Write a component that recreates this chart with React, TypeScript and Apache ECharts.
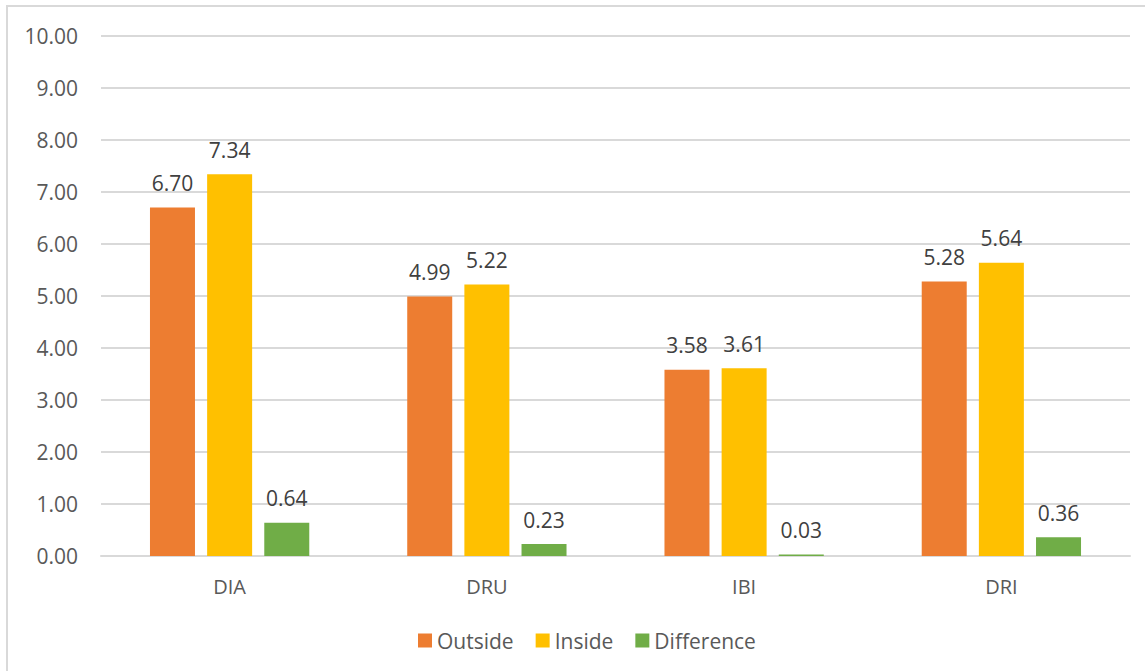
import React, { useEffect, useRef } from "react";
import * as echarts from "echarts";

const categories = ["DIA", "DRU", "IBI", "DRI"];
const outside = [6.7, 4.99, 3.58, 5.28];
const inside = [7.34, 5.22, 3.61, 5.64];
const difference = [0.64, 0.23, 0.03, 0.36];
const seriesNames = ["Outside", "Inside", "Difference"];
const colors = ["#ED7D31", "#FFC000", "#70AD47"];

const FONT = "'Open Sans', sans-serif";

export default function App() {
  const ref = useRef<HTMLDivElement>(null);
  useEffect(() => {
    if (!ref.current) return;
    const chart = echarts.init(ref.current, undefined, { renderer: "svg" });
    const label = {
      show: true,
      position: "top",
      distance: 14,
      color: "#404040",
      fontSize: 21,
      fontFamily: FONT,
      formatter: (p: any) => Number(p.value).toFixed(2),
    };
    const datasets = [outside, inside, difference];
    chart.setOption({
      animation: false,
      backgroundColor: "#ffffff",
      textStyle: { fontFamily: FONT },
      graphic: [
        {
          type: "rect",
          shape: { x: 7, y: 6, width: 1160, height: 700 },
          style: { fill: "none", stroke: "#d9d9d9", lineWidth: 2 },
          silent: true,
        },
      ],
      grid: { left: 101, right: 15, top: 36, bottom: 115, containLabel: false },
      legend: {
        data: seriesNames,
        top: 625,
        left: 413,
        itemWidth: 14,
        itemHeight: 14,
        itemGap: 22,
        icon: "rect",
        textStyle: { color: "#595959", fontSize: 21, fontFamily: FONT, padding: [0, 0, 0, 0] },
      },
      xAxis: {
        type: "category",
        data: categories,
        axisTick: { show: false },
        axisLine: { lineStyle: { color: "#d9d9d9", width: 2 } },
        axisLabel: { color: "#595959", fontSize: 20, fontFamily: FONT, margin: 20 },
      },
      yAxis: {
        type: "value",
        min: 0,
        max: 10,
        interval: 1,
        axisLabel: {
          color: "#595959",
          fontSize: 21,
          fontFamily: FONT,
          margin: 23,
          formatter: (v: number) => v.toFixed(2),
        },
        splitLine: { lineStyle: { color: "#d9d9d9", width: 2 } },
        axisLine: { show: false },
        axisTick: { show: false },
      },
      series: datasets.map((d, i) => ({
        name: seriesNames[i],
        type: "bar",
        data: d,
        barWidth: 45,
        barGap: "27%",
        itemStyle: { color: colors[i] },
        label,
      })),
    });
    return () => chart.dispose();
  }, []);
  return (
    <div
      ref={ref}
      style={{ position: "fixed", left: 0, top: 0, width: 1145, height: 671 }}
    />
  );
}
